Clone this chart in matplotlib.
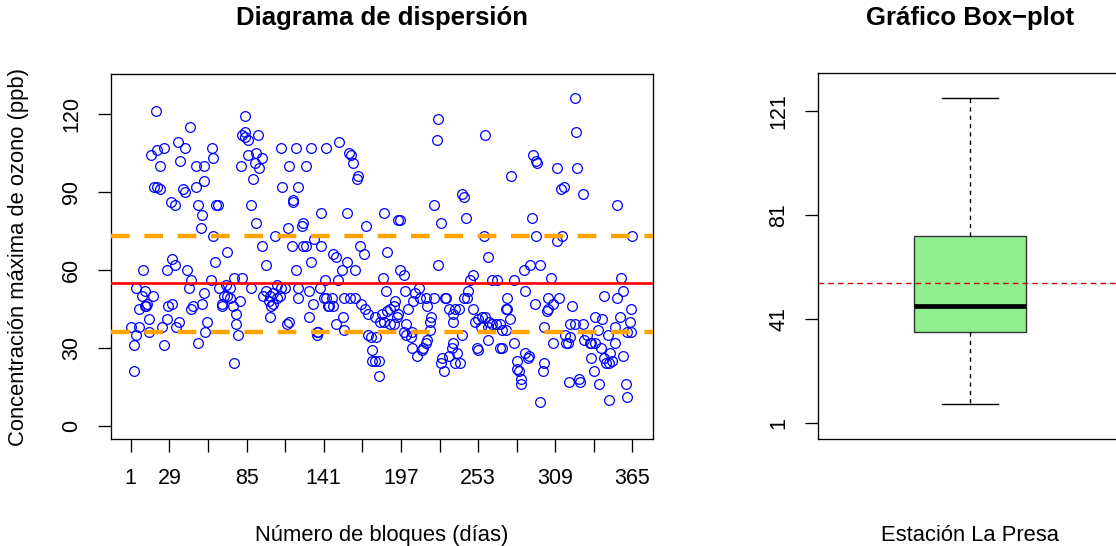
import matplotlib
matplotlib.use('Agg')
import matplotlib.pyplot as plt

# Datos (día, ozono máximo en ppb)
dias = [19, 44, 35, 25, 40, 16, 20, 22, 37, 48, 54, 18, 20, 22, 39, 40, 48, 54, 30, 33,
        50, 53, 52, 31, 10, 27, 33, 42, 45, 43, 5, 11, 9, 17, 12, 11, 13, 31, 28, 7,
        46, 45, 53, 14, 27, 1, 7, 24, 36, 34, 14, 5, 3, 25, 50, 55, 56, 3,
        84, 82, 84, 86, 84, 93, 60, 61, 86, 92, 96, 91, 94, 81, 90, 110, 121, 116, 111, 122,
        63, 64, 88, 119, 119, 92, 61, 106, 115, 118, 96, 71, 62, 99, 121, 59, 76, 82, 73, 88,
        65, 70, 69, 73, 67, 67, 71, 75, 80, 77, 54, 77, 79, 76,
        97, 99, 102, 104, 107, 110, 113, 101, 104, 107, 103, 109, 102, 116, 114, 122, 122,
        132, 143, 152, 159, 161, 162, 128, 166, 165, 139, 158, 185, 125, 126, 172, 134, 139, 126, 128,
        167, 170, 187, 148, 150, 132, 158, 154, 164, 184, 142, 151, 186, 130, 138, 133, 141, 143, 147, 144,
        145, 148, 156, 160, 164, 168, 171, 130, 155, 150, 156, 173, 178, 183, 187, 189, 192, 182, 185, 189,
        136, 136, 137, 173, 175, 179, 176, 176, 178, 181, 181,
        224, 223, 258, 241, 243, 221, 226, 244, 195, 196, 257, 260, 224, 196, 199, 249, 247, 246, 245, 243,
        210, 200, 229, 230, 221, 207, 206, 211, 215, 216, 219, 218, 202, 193, 194, 192, 195, 201, 199, 201,
        205, 204, 218, 216, 215, 213, 212, 205, 209, 232, 235, 236, 239, 235, 235, 234, 232, 238, 227, 226,
        228, 236, 240, 241, 249, 251, 253, 256, 258, 255, 260, 261, 260, 252, 253,
        323, 324, 293, 295, 296, 277, 310, 325, 315, 313, 329, 292, 295, 314, 310, 286, 291, 298, 306, 263,
        267, 279, 287, 274, 274, 273, 294, 304, 307, 304, 303, 312, 321, 263, 266, 269, 270, 273, 276, 269,
        270, 279, 301, 307, 316, 318, 317, 320, 320, 323, 329, 330, 332, 281, 281, 283, 284, 284, 287, 289,
        290, 301, 300, 298, 319, 326, 327,
        354, 365, 357, 358, 344, 354, 356, 364, 363, 364, 361, 352, 338, 343, 340, 334, 335, 338, 347, 352,
        335, 342, 344, 346, 349, 350, 348, 358, 337, 341, 348, 360, 361]
ozono = [121, 115, 109, 107, 107, 104, 106, 100, 102, 100, 100, 92, 92, 91, 91, 90, 92, 94, 86, 85,
         85, 81, 76, 64, 60, 60, 62, 60, 56, 53, 53, 52, 50, 50, 46, 46, 47, 47, 46, 45,
         46, 45, 47, 41, 41, 38, 38, 38, 40, 38, 36, 35, 31, 31, 32, 36, 40, 21,
         119, 112, 113, 110, 111, 112, 107, 103, 104, 105, 103, 101, 99, 100, 95, 107, 107, 100, 92, 92,
         85, 85, 85, 87, 86, 78, 73, 73, 76, 69, 69, 67, 63, 62, 60, 56, 57, 57, 53, 53,
         53, 54, 50, 49, 47, 46, 50, 46, 48, 43, 51, 39, 35, 24,
         50, 52, 50, 51, 54, 53, 53, 48, 47, 49, 46, 50, 42, 40, 39, 53, 49,
         107, 107, 109, 105, 104, 101, 100, 96, 95, 82, 82, 82, 77, 78, 77, 72, 69, 69, 69,
         69, 66, 67, 66, 65, 63, 63, 60, 60, 57, 56, 56, 52, 52, 53, 47, 49, 49, 49, 46,
         46, 46, 49, 49, 49, 47, 45, 42, 42, 39, 37, 43, 42, 43, 44, 45, 46, 40, 40, 39,
         36, 35, 36, 35, 34, 34, 29, 25, 25, 25, 19,
         118, 110, 112, 89, 88, 85, 78, 80, 79, 79, 73, 65, 62, 60, 58, 58, 56, 52, 49, 49,
         53, 52, 49, 49, 49, 51, 48, 49, 49, 46, 42, 40, 45, 48, 42, 39, 43, 39, 36, 35,
         36, 34, 37, 33, 32, 30, 29, 30, 27, 45, 43, 45, 45, 40, 32, 30, 27, 28, 26, 24,
         21, 24, 24, 35, 45, 40, 41, 42, 42, 38, 38, 40, 33, 30, 29,
         126, 113, 104, 102, 101, 96, 99, 99, 92, 91, 89, 80, 73, 73, 71, 60, 62, 62, 57, 56,
         56, 56, 52, 49, 45, 45, 47, 49, 47, 45, 44, 49, 46, 39, 39, 39, 37, 37, 41, 30,
         30, 32, 38, 32, 35, 32, 32, 34, 39, 39, 39, 33, 35, 25, 22, 21, 18, 16, 28, 26,
         27, 24, 21, 9, 17, 18, 17,
         85, 73, 57, 52, 50, 49, 42, 45, 40, 36, 36, 38, 42, 41, 37, 32, 32, 32, 35, 32,
         26, 30, 26, 24, 28, 25, 24, 27, 21, 16, 10, 16, 11]

media = 55
q1 = 36
mediana = 46
q3 = 73
bigote_inf = 8.5
bigote_sup = 126

ticks_x = [1, 29, 57, 85, 113, 141, 169, 197, 225, 253, 281, 309, 337, 365]
etiq_x = ['1', '29', '', '85', '', '141', '', '197', '', '253', '', '309', '', '365']
ticks_y1 = [0, 30, 60, 90, 120]
ticks_y2 = [1, 41, 81, 121]

plt.rcParams['font.family'] = ['Liberation Sans', 'DejaVu Sans']

fig = plt.figure(figsize=(11.16, 5.46), dpi=100)

# Diagrama de dispersión
ax1 = fig.add_axes([0.0992, 0.1954, 0.4855, 0.6694])
ax1.plot(dias, ozono, 'o', mfc='none', mec='blue', ms=7, mew=0.9, ls='none', zorder=2)
ax1.axhline(media, color='red', lw=1.9, zorder=3)
for q in (q1, q3):
    ax1.axhline(q, color='orange', lw=3.2, dashes=(4.2, 3.3), zorder=3)
ax1.set_xlim(-13.56, 379.56)
ax1.set_ylim(-5.2, 135.4)
ax1.set_xticks(ticks_x)
ax1.set_xticklabels(etiq_x)
ax1.set_yticks(ticks_y1)
ax1.set_title('Diagrama de dispersión', fontsize=18.5, fontweight='bold', y=1.153, va='center', pad=0)
ax1.set_xlabel('Número de bloques (días)', fontsize=15.8)
ax1.xaxis.set_label_coords(0.5, -0.262)
ax1.xaxis.label.set_va('center')
ax1.set_ylabel('Concentración máxima de ozono (ppb)', fontsize=15.8)
ax1.yaxis.set_label_coords(-0.171, 0.5)
ax1.yaxis.label.set_va('center')

# Box-plot
ax2 = fig.add_axes([0.7327, 0.1954, 0.2729, 0.6703])
stats = [dict(med=mediana, q1=q1, q3=q3, whislo=bigote_inf, whishi=bigote_sup, fliers=[])]
ax2.bxp(stats, positions=[1], widths=0.4, capwidths=0.2, patch_artist=True, showfliers=False,
        boxprops=dict(facecolor='#90EE90', edgecolor='#333333', lw=1),
        medianprops=dict(color='black', lw=3.4),
        whiskerprops=dict(color='black', lw=1, ls=(0, (3, 3))),
        capprops=dict(color='black', lw=1))
ax2.axhline(media, color='#CD0000', lw=1, ls=(0, (4, 3)), zorder=5)
ax2.set_xlim(0.46, 1.54)
ax2.set_ylim(-5.2, 135.4)
ax2.set_xticks([])
ax2.set_yticks(ticks_y2)
ax2.set_title('Gráfico Box\u2212plot', fontsize=18.5, fontweight='bold', y=1.152, va='center', pad=0)
ax2.set_xlabel('Estación La Presa', fontsize=15.8)
ax2.xaxis.set_label_coords(0.5, -0.262)
ax2.xaxis.label.set_va('center')

for ax in (ax1, ax2):
    for s in ax.spines.values():
        s.set_linewidth(0.95)
    ax.tick_params(direction='out', length=9.6, width=0.95, labelsize=15.5, pad=11)
    for lab in ax.get_yticklabels():
        lab.set_rotation(90)
        lab.set_va('center')
        lab.set_ha('right')

fig.savefig('out.png', dpi=100)
